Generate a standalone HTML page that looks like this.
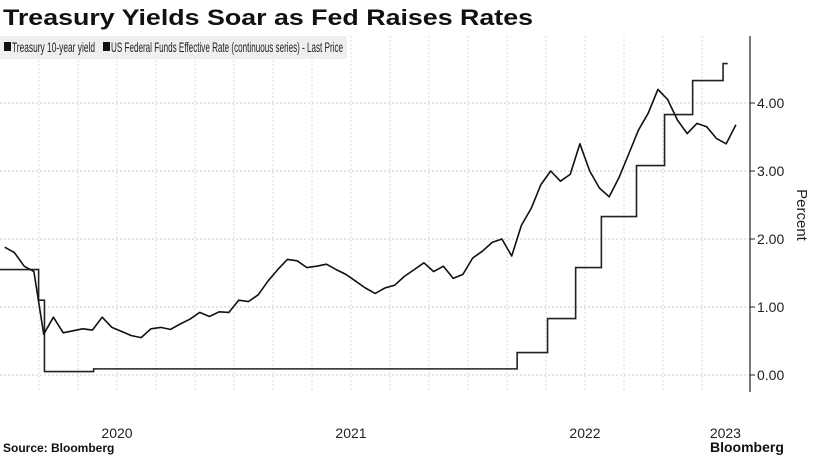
<!DOCTYPE html>
<html><head><meta charset="utf-8">
<style>
body{margin:0;background:#fff;width:813px;height:455px;overflow:hidden;font-family:"Liberation Sans",sans-serif;}
</style></head>
<body>
<svg id="chart" width="813" height="455" viewBox="0 0 813 455" xmlns="http://www.w3.org/2000/svg">
<text x="3" y="25" font-size="22" font-weight="bold" fill="#111" textLength="530" lengthAdjust="spacingAndGlyphs">Treasury Yields Soar as Fed Raises Rates</text>
<g id="grid"></g>
<rect x="0" y="36" width="347" height="23" fill="#efefef"/>
<g>
<rect x="4" y="42" width="7" height="9" fill="#111"/>
<text x="12" y="52" font-size="14" fill="#222" textLength="83" lengthAdjust="spacingAndGlyphs">Treasury 10-year yield</text></g>
<g>
<rect x="103" y="42" width="7" height="9" fill="#111"/>
<text x="111" y="52" font-size="14" fill="#222" textLength="232" lengthAdjust="spacingAndGlyphs">US Federal Funds Effective Rate (continuous series) - Last Price</text></g>
<g id="series"></g>
<line x1="750" y1="36" x2="750" y2="392" stroke="#222" stroke-width="1.2"/>
<g id="yaxis"></g>
<text transform="translate(797,215) rotate(90)" font-size="15" text-anchor="middle" fill="#222">Percent</text>
<g id="xaxis"></g>
<text x="3" y="452" font-size="12" font-weight="bold" fill="#111">Source: Bloomberg</text>
<text x="710" y="452" font-size="14" font-weight="bold" fill="#111">Bloomberg</text>
</svg>
<script>
const yieldValues=[1.88,1.80,1.60,1.52,0.60,0.85,0.62,0.65,0.68,0.66,0.85,0.70,0.64,0.58,0.55,0.68,0.70,0.67,0.75,0.82,0.92,0.86,0.93,0.92,
1.10,1.08,1.18,1.38,1.55,1.70,1.68,1.58,1.60,1.63,1.55,1.48,1.38,1.28,1.20,1.28,1.32,1.45,1.55,1.65,1.52,1.60,1.42,1.48,
1.72,1.82,1.95,2.00,1.75,2.20,2.45,2.80,3.00,2.85,2.95,3.40,3.00,2.75,2.62,2.90,3.25,3.60,3.85,4.20,4.05,3.75,3.55,3.70,
3.65,3.48,3.40,3.68];
const fedDates=[0,0.165,0.19,0.4,2.21,2.34,2.46,2.57,2.72,2.84,2.96,3.09,3.11];
const fedValues=[1.55,1.10,0.05,0.09,0.33,0.83,1.58,2.33,3.08,3.83,4.33,4.58,4.58];
const yTicks=[0,1,2,3,4];
const yearLabels=["2020","2021","2022","2023"];
const yearLabelPos=[0.5,1.5,2.5,3.1];
const X=t=>0+t*234, Y=v=>375-v*68;
const NS="http://www.w3.org/2000/svg";
function mk(tag,attrs,parent){const e=document.createElementNS(NS,tag);for(const k in attrs)e.setAttribute(k,attrs[k]);parent.appendChild(e);return e;}
const grid=document.getElementById('grid');
for(const v of yTicks){
 const l=mk('line',{x1:0,x2:750,y1:Y(v),y2:Y(v),stroke:'#ccc','stroke-dasharray':'2,2'},grid);
 
 
}
for(let k=1;k<19;k++){
 const x=X(k/6);
 const l=mk('line',{x1:x,x2:x,y1:36,y2:392,stroke:'#ddd','stroke-dasharray':'2,2'},grid);
 
 
}
const ya=document.getElementById('yaxis');
for(const v of yTicks){
 const t=mk('line',{x1:750,x2:755,y1:Y(v),y2:Y(v),stroke:'#222'},ya);
 
 
 const tx=mk('text',{x:757,y:Y(v)+5,'font-size':14,fill:'#222'},ya);
 tx.textContent=v.toFixed(2);
 
 
}
const xa=document.getElementById('xaxis');
yearLabels.forEach((s,i)=>{
 const tx=mk('text',{x:X(yearLabelPos[i]),y:438,'font-size':14,fill:'#222','text-anchor':'middle'},xa);
 tx.textContent=s;
 
 
});
const ser=document.getElementById('series');
let d='';
fedValues.forEach((v,i)=>{d+=(i?'H'+X(fedDates[i])+'V'+Y(v):'M'+X(fedDates[i])+' '+Y(v));});
const fp=mk('path',{d:d,fill:'none',stroke:'#222','stroke-width':1.6},ser);


const yd=yieldValues.map((v,i)=>(i?'L':'M')+X(i/24+0.02).toFixed(1)+' '+Y(v).toFixed(1)).join('');
const yp=mk('path',{d:yd,fill:'none',stroke:'#111','stroke-width':1.6,'stroke-linejoin':'round'},ser);


</script>
</body></html>
